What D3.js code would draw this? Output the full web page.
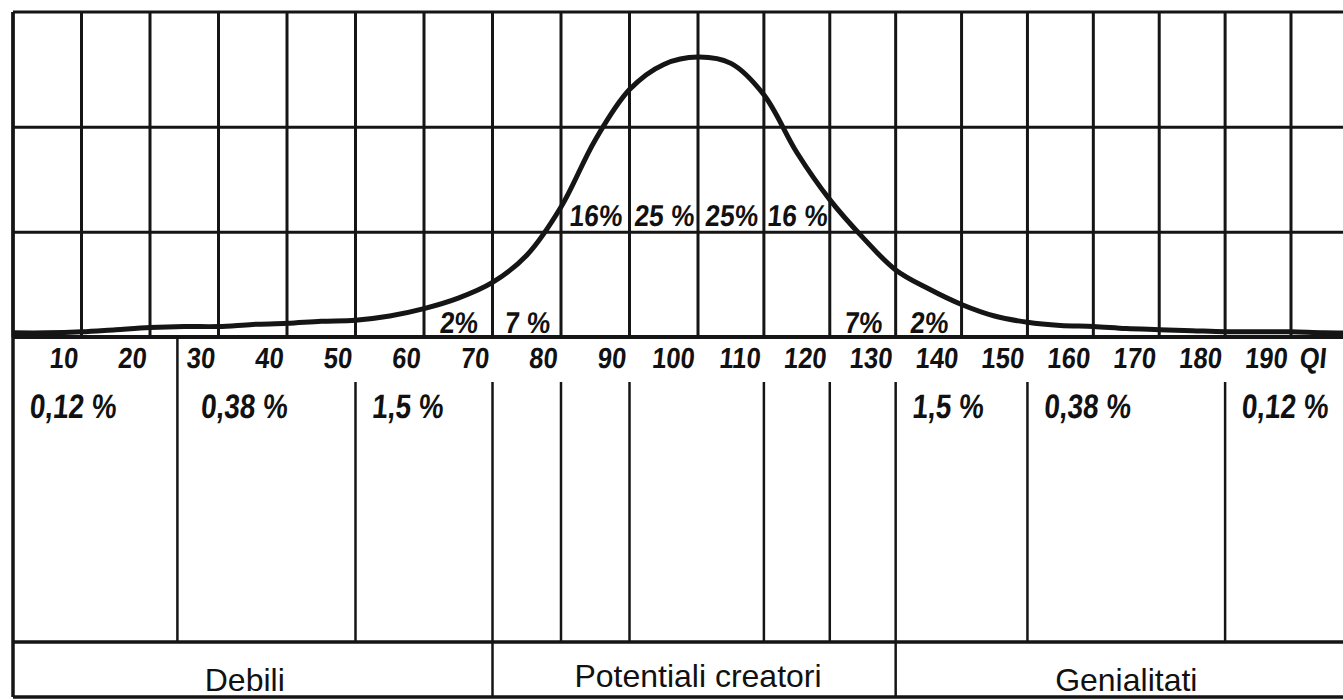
<!DOCTYPE html>
<meta charset="utf-8">
<script src="https://d3js.org/d3.v7.min.js"></script>
<style>
body { margin: 0; background: #fff; }
svg { display: block; }
.num {
  font-family: "Liberation Sans", Arial, sans-serif;
  font-weight: bold;
  fill: #111;
}
.zone {
  font-family: "Liberation Sans", Arial, sans-serif;
  font-size: 32px;
  fill: #111;
}
</style>
<body>
<div id="chart"></div>
<script>

// bell curve (QI -> height in grid rows)
var curveQI = [0, 5, 10, 15, 20, 25, 30, 35, 40, 45, 50, 55, 60, 65, 70, 75, 80, 85, 90, 95,
               100, 105, 110, 115, 120, 125, 130, 135, 140, 145, 150, 155, 160, 165, 170, 175,
               180, 185, 190, 195, 200];
var curveHeight = [0.04, 0.04, 0.05, 0.07, 0.09, 0.10, 0.10, 0.12, 0.13, 0.15, 0.16, 0.20, 0.27,
                   0.37, 0.52, 0.78, 1.24, 1.88, 2.36, 2.60, 2.67, 2.61, 2.31, 1.76, 1.31, 0.95,
                   0.64, 0.46, 0.31, 0.20, 0.14, 0.11, 0.10, 0.08, 0.07, 0.06, 0.05, 0.05, 0.05,
                   0.04, 0.04];

// grid
var gridQI = [0, 10, 20, 30, 40, 50, 60, 70, 80, 90, 100, 110, 120, 130, 140, 150, 160, 170, 180, 190];
var gridRows = [1, 2];
var topRow = 3.1;

// axis numbers
var tickQI = [10, 20, 30, 40, 50, 60, 70, 80, 90, 100, 110, 120, 130, 140, 150, 160, 170, 180, 190];
var tickText = ["10", "20", "30", "40", "50", "60", "70", "80", "90", "100", "110", "120", "130",
                "140", "150", "160", "170", "180", "190"];

// percentages written in the cells under the curve
var cellFrom = [60, 70, 80, 90, 100, 110, 120, 130];
var cellTo = [70, 80, 90, 100, 110, 120, 130, 140];
var cellPct = ["2%", "7 %", "16%", "25 %", "25%", "16 %", "7%", "2%"];
var cellHigh = [false, false, true, true, true, true, false, false];

// share of population per band, below the axis
var shareFrom = [0, 25, 50, 130, 150, 180];
var sharePct = ["0,12 %", "0,38 %", "1,5 %", "1,5 %", "0,38 %", "0,12 %"];

// divider lines below the axis
var dividerQI = [50, 70, 80, 90, 110, 120, 130, 150, 180];
var fullDividerQI = [24];

// bottom zones
var zoneFrom = [0, 70, 130];
var zoneTo = [70, 130, 200];
var zoneName = ["Debili", "Potentiali creatori", "Genialitati"];

var width = 1343, height = 700;
var baseY = 337, numY = 368, pctY = 418, divTop = 382, zoneY = 642, bottomY = 697;
var slant = " skewX(-6)";

var svg = d3.select("#chart")
  .append("svg")
    .attr("width", width)
    .attr("height", height);

svg.append("rect")
  .attr("width", width)
  .attr("height", height)
  .attr("fill", "#fff");

var x = d3.scaleLinear()
  .domain([0, 100, 190])
  .range([13, 698, 1291]);

var y = d3.scaleLinear()
  .domain([0, topRow])
  .range([baseY, 12]);

var ink = "#151515";

// horizontal grid lines + top border
svg.selectAll("line.hgrid")
  .data(gridRows.concat([topRow]))
  .enter()
  .append("line")
    .attr("class", "hgrid")
    .attr("x1", x(0))
    .attr("x2", width)
    .attr("y1", function(d) { return y(d); })
    .attr("y2", function(d) { return y(d); })
    .attr("stroke", ink)
    .attr("stroke-width", 3);

// vertical grid lines
svg.selectAll("line.vgrid")
  .data(gridQI)
  .enter()
  .append("line")
    .attr("class", "vgrid")
    .attr("x1", function(d) { return x(d); })
    .attr("x2", function(d) { return x(d); })
    .attr("y1", y(topRow))
    .attr("y2", y(0))
    .attr("stroke", ink)
    .attr("stroke-width", 3);

// left border all the way down
svg.append("line")
  .attr("x1", x(0)).attr("x2", x(0))
  .attr("y1", y(topRow)).attr("y2", bottomY)
  .attr("stroke", ink)
  .attr("stroke-width", 3.5);

// baseline
svg.append("line")
  .attr("x1", x(0)).attr("x2", width)
  .attr("y1", y(0)).attr("y2", y(0))
  .attr("stroke", ink)
  .attr("stroke-width", 4);

// the curve
var curveData = curveQI.map(function(q, i) { return [q, curveHeight[i]]; });
svg.append("path")
  .datum(curveData)
  .attr("fill", "none")
  .attr("stroke", ink)
  .attr("stroke-width", 5)
  .attr("stroke-linejoin", "round")
  .attr("d", d3.line()
    .x(function(d) { return x(d[0]); })
    .y(function(d) { return y(d[1]); })
    .curve(d3.curveCatmullRom.alpha(0.5)));

// percentages in the cells
svg.selectAll("text.cell")
  .data(cellPct)
  .enter()
  .append("text")
    .attr("class", "num")
    .attr("transform", function(d, i) {
      var cx = x((cellFrom[i] + cellTo[i]) / 2);
      var cy = cellHigh[i] ? y(gridRows[0]) - 6 : y(0) - 4;
      return "translate(" + cx + "," + cy + ") scale(0.88,1)" + slant;
    })
    .attr("text-anchor", "middle")
    .style("font-size", "30px")
    .text(function(d) { return d; });

// axis numbers
svg.selectAll("text.tick")
  .data(tickText)
  .enter()
  .append("text")
    .attr("class", "num")
    .attr("transform", function(d, i) {
      return "translate(" + (x(tickQI[i]) - 4) + "," + numY + ") scale(0.88,1)" + slant;
    })
    .attr("text-anchor", "end")
    .style("font-size", "29px")
    .text(function(d) { return d; });

svg.append("text")
  .attr("class", "num")
  .attr("transform", "translate(" + (x(190) + 8) + "," + numY + ") scale(0.88,1)" + slant)
  .style("font-size", "29px")
  .text("QI");

// dividers below the axis
svg.selectAll("line.full")
  .data(fullDividerQI)
  .enter()
  .append("line")
    .attr("x1", function(d) { return x(d); })
    .attr("x2", function(d) { return x(d); })
    .attr("y1", y(0))
    .attr("y2", zoneY)
    .attr("stroke", ink)
    .attr("stroke-width", 2.5);

svg.selectAll("line.div")
  .data(dividerQI)
  .enter()
  .append("line")
    .attr("x1", function(d) { return x(d); })
    .attr("x2", function(d) { return x(d); })
    .attr("y1", divTop)
    .attr("y2", function(d) { return zoneFrom.indexOf(d) >= 0 ? bottomY : zoneY; })
    .attr("stroke", ink)
    .attr("stroke-width", 2.5);

// band shares
svg.selectAll("text.share")
  .data(sharePct)
  .enter()
  .append("text")
    .attr("class", "num")
    .attr("transform", function(d, i) {
      return "translate(" + (x(shareFrom[i]) + 16) + "," + pctY + ") scale(0.82,1)" + slant;
    })
    .style("font-size", "34px")
    .text(function(d) { return d; });

// zone row
svg.append("line")
  .attr("x1", x(0)).attr("x2", width)
  .attr("y1", zoneY).attr("y2", zoneY)
  .attr("stroke", ink)
  .attr("stroke-width", 3.5);

svg.append("line")
  .attr("x1", x(0)).attr("x2", width)
  .attr("y1", bottomY).attr("y2", bottomY)
  .attr("stroke", ink)
  .attr("stroke-width", 3.5);

svg.selectAll("text.zone")
  .data(zoneName)
  .enter()
  .append("text")
    .attr("class", "zone")
    .attr("x", function(d, i) { return x((zoneFrom[i] + zoneTo[i]) / 2) - (i == 0 ? 8 : 0); })
    .attr("y", function(d, i) { return i == 1 ? zoneY + 45 : zoneY + 49; })
    .attr("text-anchor", "middle")
    .text(function(d) { return d; });

</script>
</body>
